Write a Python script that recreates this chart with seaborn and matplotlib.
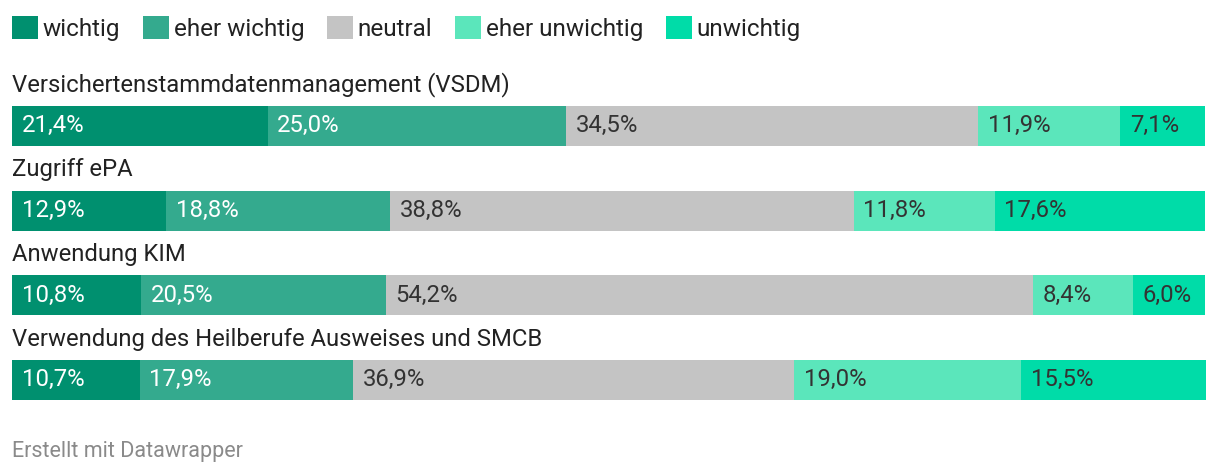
import matplotlib
matplotlib.use("Agg")
import matplotlib.pyplot as plt
import seaborn as sns
import pandas as pd
from matplotlib.patches import Patch

# data
items = [
    "Versichertenstammdatenmanagement (VSDM)",
    "Zugriff ePA",
    "Anwendung KIM",
    "Verwendung des Heilberufe Ausweises und SMCB",
]
levels = ["wichtig", "eher wichtig", "neutral", "eher unwichtig", "unwichtig"]
wichtig = [21.4, 12.9, 10.8, 10.7]
eher_wichtig = [25.0, 18.8, 20.5, 17.9]
neutral = [34.5, 38.8, 54.2, 36.9]
eher_unwichtig = [11.9, 11.8, 8.4, 19.0]
unwichtig = [7.1, 17.6, 6.0, 15.5]

colors = ["#00906f", "#34aa8e", "#c4c4c4", "#5be6bb", "#00dca8"]
label_colors = ["white", "white", "#333333", "#333333", "#333333"]

df = pd.DataFrame({
    "item": items,
    "wichtig": wichtig,
    "eher wichtig": eher_wichtig,
    "neutral": neutral,
    "eher unwichtig": eher_unwichtig,
    "unwichtig": unwichtig,
})
cum = df[levels].cumsum(axis=1)
starts = cum - df[levels]

sns.set_theme(style="white")
plt.rcParams["font.family"] = ["Roboto", "DejaVu Sans"]

fig = plt.figure(figsize=(12.2, 4.76), dpi=100)
ax = fig.add_axes([12 / 1220, 1 - 422.3 / 476, 1194 / 1220, 338.7 / 476])

bar_w = 0.472
# draw stacked bars back to front
for lvl, col in reversed(list(zip(levels, colors))):
    sns.barplot(x=cum[lvl], y=df["item"], color=col, orient="h",
                width=bar_w, ax=ax, saturation=1, linewidth=0)

for i, item in enumerate(items):
    ax.text(0, i - bar_w / 2 - 0.17, item, fontsize=17.2, color="#222222",
            ha="left", va="baseline")
    for lvl, lc in zip(levels, label_colors):
        v = df.loc[i, lvl]
        ax.annotate(f"{v:.1f}%".replace(".", ","), (starts.loc[i, lvl], i),
                    xytext=(7, 0), textcoords="offset points",
                    ha="left", va="center", fontsize=17.2, color=lc)

ax.set_xlim(0, 100)
ax.set_ylim(3.5, -0.5)
ax.axis("off")

handles = [Patch(facecolor=c, edgecolor="none") for c in colors]
fig.legend(handles, levels, loc="upper left", bbox_to_anchor=(0.0, 0.992),
           ncol=5, frameon=False, fontsize=17.5, handlelength=1.05,
           handleheight=1.1, handletextpad=0.2, columnspacing=0.95,
           labelcolor="#222222", borderaxespad=0.1)

fig.text(12 / 1220, 1 - 452 / 476, "Erstellt mit Datawrapper", fontsize=15.5,
         color="#8a8a8a", ha="left", va="center")

fig.savefig("out.png", dpi=100)
